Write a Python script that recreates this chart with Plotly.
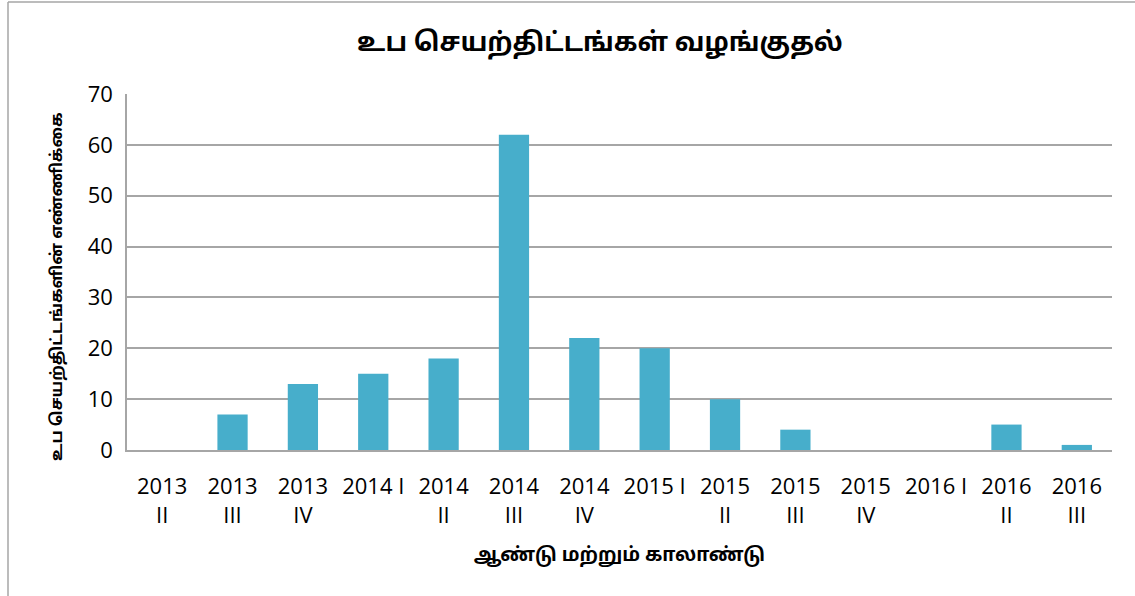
import plotly.graph_objects as go

categories = ["2013<br>II", "2013<br>III", "2013<br>IV", "2014 I", "2014<br>II", "2014<br>III",
              "2014<br>IV", "2015 I", "2015<br>II", "2015<br>III", "2015<br>IV", "2016 I",
              "2016<br>II", "2016<br>III"]
values = [0, 7, 13, 15, 18, 62, 22, 20, 10, 4, 0, 0, 5, 1]
y_ticks = [0, 10, 20, 30, 40, 50, 60, 70]

title_text = "உப செயற்திட்டங்கள் வழங்குதல்"
y_title = "உப செயற்திட்டங்களின் எண்ணிக்கை"
x_title = "ஆண்டு மற்றும் காலாண்டு"

W, H = 1135, 596
L, R, T, B = 127, 23, 94, 146
pw, ph = W - L - R, H - T - B

tamil_font = "Noto Sans Tamil, Lohit Tamil, Latha, Noto Sans, sans-serif"
num_font = "Open Sans, Noto Sans, sans-serif"

fig = go.Figure()
fig.add_trace(go.Bar(
    x=categories, y=values,
    marker=dict(color="#47aecb", line=dict(width=0)),
    hoverinfo="x+y",
))

fig.update_layout(
    width=W, height=H,
    margin=dict(l=L, r=R, t=T, b=B),
    paper_bgcolor="white", plot_bgcolor="white",
    bargap=0.57,
    showlegend=False,
    title=dict(text="<b>" + title_text + "</b>", x=600 / W, xanchor="center",
               y=1 - 42 / H, yanchor="middle",
               font=dict(family=tamil_font, size=26, color="black")),
    xaxis=dict(
        type="category", showgrid=False, showline=True, linecolor="#a6a6a6", linewidth=1.5,
        ticks="", tickfont=dict(family=num_font, size=22, color="black"), ticklabelstandoff=16,
        title=dict(text="<b>" + x_title + "</b>", font=dict(family=tamil_font, size=19, color="black"),
                   standoff=20),
        tickangle=0, automargin=False,
    ),
    yaxis=dict(
        range=[0, 70], tickvals=y_ticks, showgrid=True, gridcolor="#a6a6a6", gridwidth=1.5,
        showline=True, linecolor="#a6a6a6", linewidth=1.5, zeroline=False,
        ticks="", tickfont=dict(family=num_font, size=22, color="black"), ticklabelstandoff=8,
        automargin=False,
    ),
    annotations=[
        dict(text="<b>" + y_title + "</b>", xref="paper", yref="paper",
             x=(58 - L) / pw, y=(H - B - 287) / ph, xanchor="center", yanchor="middle",
             textangle=-90, showarrow=False,
             font=dict(family=tamil_font, size=16, color="black")),
    ],
    shapes=[
        dict(type="line", xref="paper", yref="paper",
             x0=(8 - L) / pw, x1=(8 - L) / pw, y0=(H - 2 - B) / ph, y1=(0 - B) / ph,
             line=dict(color="#a6a6a6", width=1.5)),
        dict(type="line", xref="paper", yref="paper",
             x0=(8 - L) / pw, x1=(W - L) / pw, y0=(H - 2 - B) / ph, y1=(H - 2 - B) / ph,
             line=dict(color="#a6a6a6", width=1.5)),
    ],
)

fig.write_html("out.html", config={"displayModeBar": False},
               post_script="document.body.style.margin='0';document.body.style.overflow='hidden';")
